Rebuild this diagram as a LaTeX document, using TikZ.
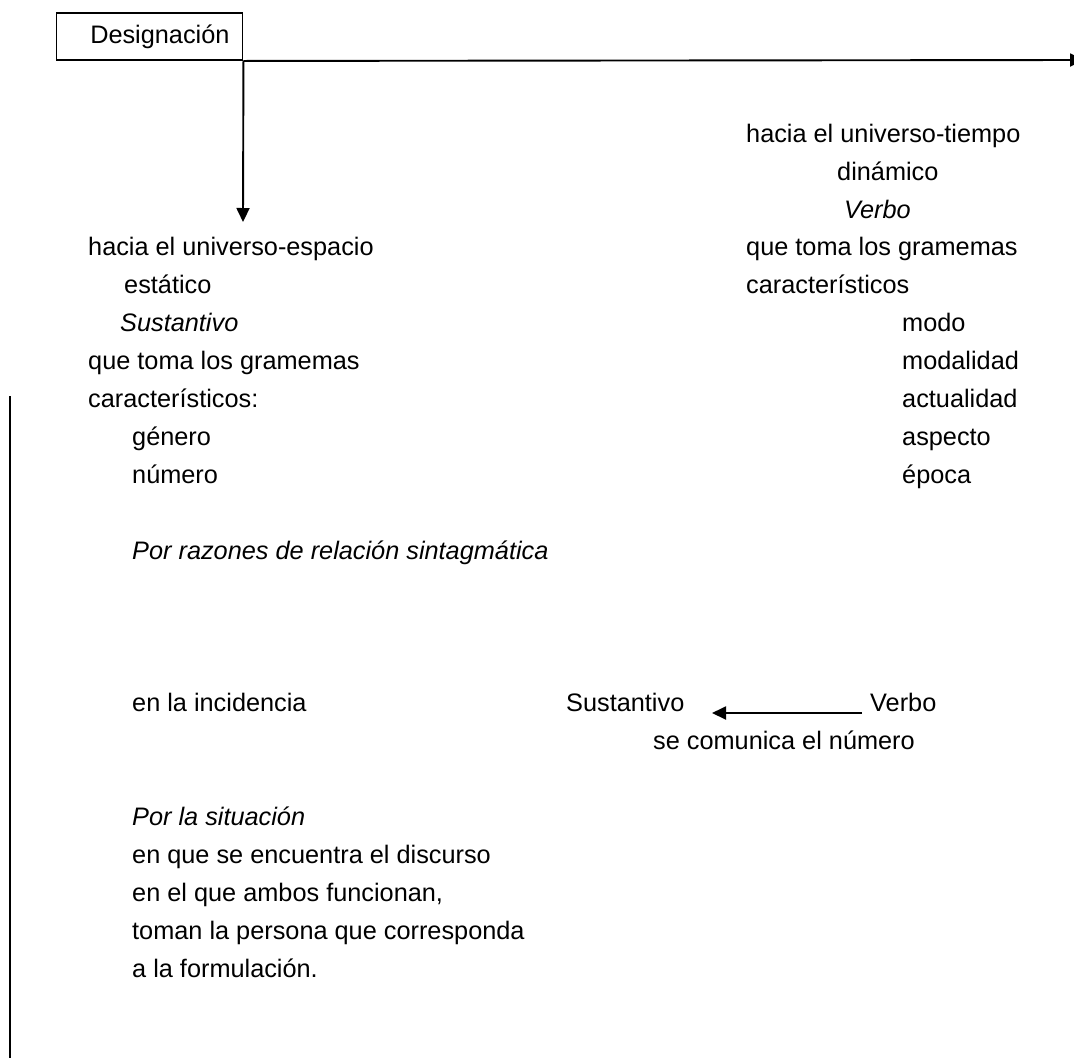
\documentclass[tikz,border=0pt]{standalone}
\usepackage{fontspec}
\setmainfont{Liberation Sans}
\usetikzlibrary{arrows.meta}
\begin{document}
\begin{tikzpicture}[x=1pt,y=-1pt,
  txt/.style={anchor=mid west,inner sep=0pt,font=\fontsize{25.3}{30}\selectfont},
  itx/.style={txt,font=\fontsize{25.3}{30}\selectfont\itshape},
  conn/.style={line width=1.9pt},
  arr/.style={conn,-{Triangle[length=14pt,width=13pt]}}]
\useasboundingbox (0,0) rectangle (1074,1058);
% box
\node[draw,line width=1.9pt,minimum height=47pt,text width=160pt,align=right,inner xsep=13pt,inner ysep=0pt,font=\fontsize{25.3}{30}\selectfont] (des) at (149.5,36.5) {Designación};
\coordinate (topend) at (1084,60);
\coordinate (downend) at (243,222);
\draw[arr] (des.south east) -- (topend);
\draw[arr] (des.south east) -- (downend);
% right column
\node[txt] (r1) at (746,140) {hacia el universo-tiempo};
\node[txt] (r2) at (837,178) {dinámico};
\node[itx] (r3) at (844,216) {Verbo};
\node[txt] (r4) at (746,253) {que toma los gramemas};
\node[txt] (r5) at (746,291) {característicos};
\node[txt] (r6) at (902,329) {modo};
\node[txt] (r7) at (902,367) {modalidad};
\node[txt] (r8) at (902,405) {actualidad};
\node[txt] (r9) at (902,443) {aspecto};
\node[txt] (r10) at (902,481) {época};
% left column
\node[txt] (l1) at (88,253) {hacia el universo-espacio};
\node[txt] (l2) at (124,291) {estático};
\node[itx] (l3) at (120,329) {Sustantivo};
\node[txt] (l4) at (88,367) {que toma los gramemas};
\node[txt] (l5) at (88,405) {característicos:};
\node[txt] (l6) at (132,443) {género};
\node[txt] (l7) at (132,481) {número};
\node[itx] (p1) at (132,557) {Por razones de relación sintagmática};
\node[txt] (inc) at (132,709) {en la incidencia};
\node[txt] (sus) at (566,709) {Sustantivo};
\node[txt] (verb) at (870,709) {Verbo};
\node[txt] (com) at (653,747) {se comunica el número};
\node[itx] (p2) at (132,823) {Por la situación};
\node[txt] (s1) at (132,861) {en que se encuentra el discurso};
\node[txt] (s2) at (132,899) {en el que ambos funcionan,};
\node[txt] (s3) at (132,937) {toman la persona que corresponda};
\node[txt] (s4) at (132,975) {a la formulación.};
% middle arrow
\coordinate (mE) at (862,713);
\coordinate (mS) at (712,713);
\draw[arr] (mE) -- (mS);
% left bar
\coordinate (barT) at (10,396);
\coordinate (barB) at (10,1058);
\draw[conn] (barT) -- (barB);
\end{tikzpicture}
\end{document}
